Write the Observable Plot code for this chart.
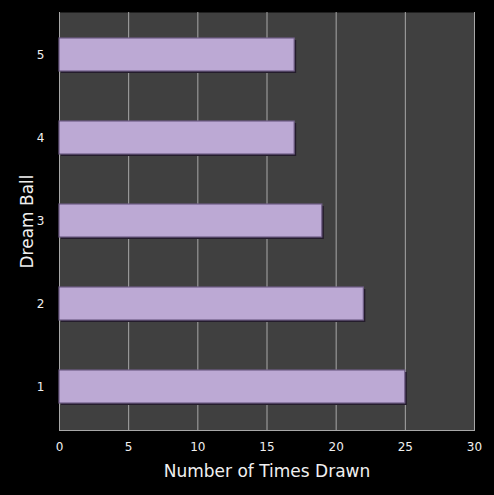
<!DOCTYPE html>
<html>
<head>
<meta charset="utf-8">
<script src="https://cdn.jsdelivr.net/npm/d3@7"></script>
<script src="https://cdn.jsdelivr.net/npm/@observablehq/plot@0.6"></script>
<style>
  html, body { margin: 0; padding: 0; background: #000; }
  #chart { width: 494px; height: 495px; }
</style>
</head>
<body>
<div id="chart"></div>
<script>
const balls = ["5", "4", "3", "2", "1"];
const timesDrawn = [17, 17, 19, 22, 25];
const xTicks = [0, 5, 10, 15, 20, 25, 30];
const xLabel = "Number of Times Drawn";
const yLabel = "Dream Ball";

const data = balls.map((b, i) => ({ball: b, count: timesDrawn[i]}));

const chart = Plot.plot({
  width: 494,
  height: 495,
  marginLeft: 59,
  marginRight: 20,
  marginTop: 12,
  marginBottom: 65,
  style: { background: "#000", color: "#f0f0f0", fontFamily: "DejaVu Sans, Verdana, sans-serif", fontSize: "12px" },
  x: { domain: [0, 30], ticks: xTicks },
  y: { domain: balls, paddingInner: 0.6, paddingOuter: 0.3 },
  marks: [
    Plot.frame({ fill: "#404040", stroke: null }),
    Plot.ruleX(xTicks, { stroke: "#a8a8a8", strokeWidth: 1 }),
    Plot.frame({ anchor: "bottom", stroke: "#a8a8a8" }),
    Plot.barX(data, { x: "count", y: "ball", fill: "#241c2c", dx: 2, dy: 2 }),
    Plot.barX(data, { x: "count", y: "ball", fill: "#bca9d4", stroke: "#6f5e86", strokeWidth: 1.2 }),
    Plot.axisX({ ticks: xTicks, tickSize: 0, tickPadding: 12, fontSize: 12, label: xLabel, labelAnchor: "center", labelOffset: 46 }),
    Plot.axisY({ tickSize: 0, tickPadding: 15, fontSize: 12, label: yLabel, labelAnchor: "center", labelOffset: 39 })
  ]
});
const xl = chart.querySelector("[aria-label='x-axis label'] text");
if (xl) xl.textContent = xLabel;
const yl = chart.querySelector("[aria-label='y-axis label'] text");
if (yl) yl.textContent = yLabel;
chart.querySelectorAll("[aria-label='x-axis label'] text, [aria-label='y-axis label'] text").forEach(t => {
  t.setAttribute("font-size", "17");
  t.style.fontSize = "17px";
});
document.getElementById("chart").appendChild(chart);
</script>
</body>
</html>
